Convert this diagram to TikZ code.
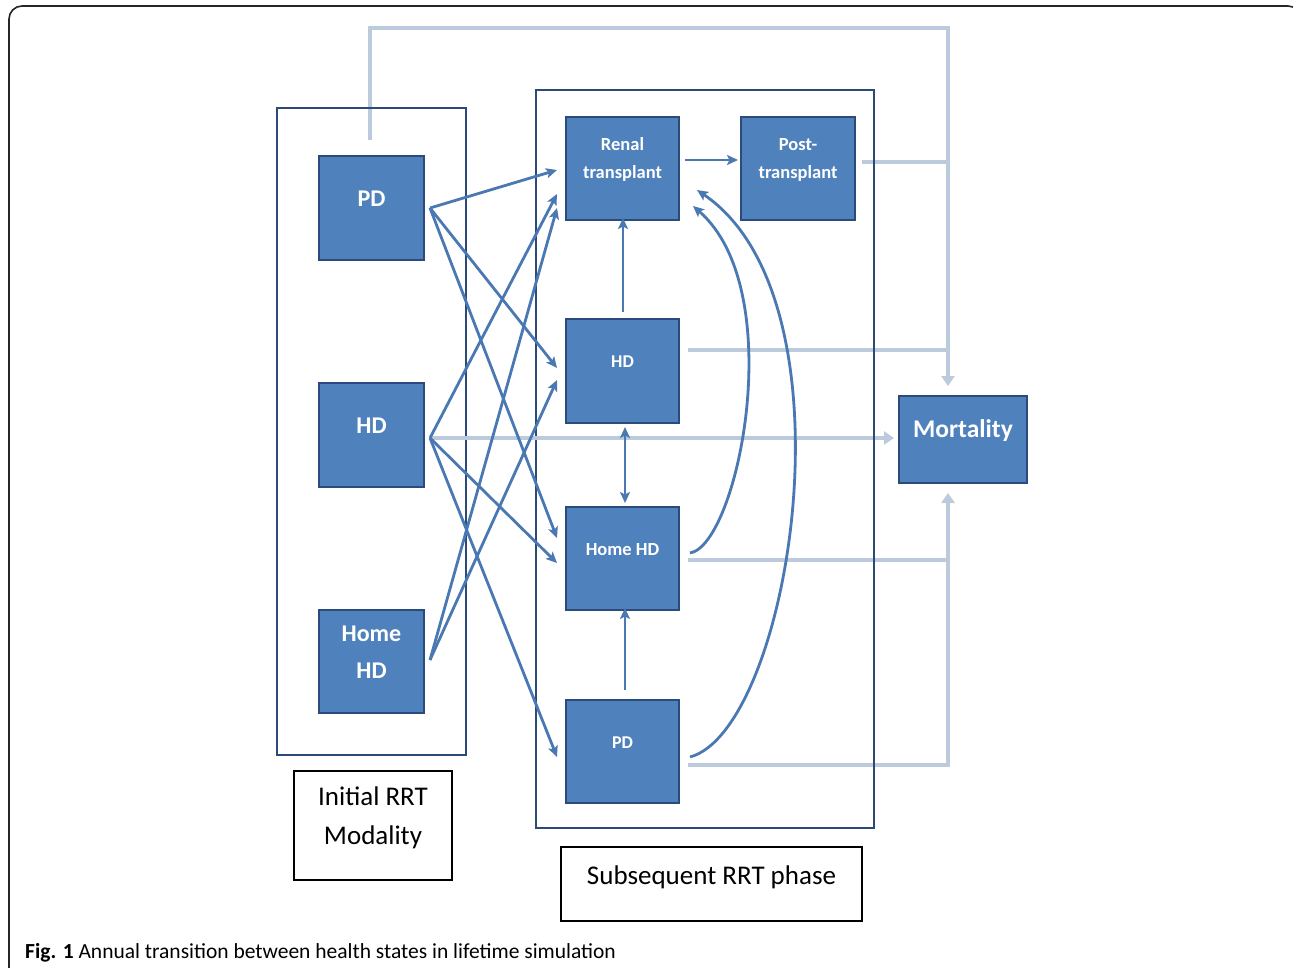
\documentclass[tikz,border=0pt]{standalone}
\usepackage{fontspec}
\setmainfont{Carlito}
\usetikzlibrary{arrows.meta,calc}
\definecolor{boxfill}{HTML}{4F81BD}
\definecolor{boxedge}{HTML}{2A4B7C}
\definecolor{contedge}{HTML}{2B4A78}
\definecolor{conn}{HTML}{4A78B2}
\definecolor{grayconn}{HTML}{BBCADC}
\tikzset{
  sbox/.style={draw=boxedge, fill=boxfill, line width=2.6pt, inner sep=0pt, outer sep=0pt},
  btxt/.style 2 args={text=white, font=\bfseries\fontsize{#1}{#2}\selectfont, align=center, yshift=9pt},
  cont/.style={draw=contedge, line width=2.6pt, inner sep=0pt, outer sep=0pt},
  lblbox/.style={draw=black, line width=2.6pt, inner sep=0pt, outer sep=0pt},
  ltxt/.style={text=black, font=\fontsize{27}{39}\selectfont, align=center},
  barr/.style={draw=conn, line width=2.8pt, -{Stealth[length=11pt,width=10pt,inset=2.5pt]}},
  dbarr/.style={draw=conn, line width=2.8pt, {Stealth[length=11pt,width=10pt,inset=2.5pt]}-{Stealth[length=11pt,width=10pt,inset=2.5pt]}},
  gline/.style={draw=grayconn, line width=4pt},
  garr/.style={draw=grayconn, line width=4pt, -{Triangle[length=10pt,width=13pt]}},
}
\begin{document}
\begin{tikzpicture}[x=1pt,y=-1pt]
\useasboundingbox (0,0) rectangle (1293,967);
\clip (0,0) rectangle (1293,967);
\fill[white] (0,0) rectangle (1293,967);
% outer frame
\draw[line width=1.6pt, draw=black!85, rounded corners=13pt] (9,975) -- (9,6) -- (1301,6) -- (1301,60);

% containers
\node[cont, minimum width=189pt, minimum height=647pt] (lcont) at (371.5,431.5) {};
\node[cont, minimum width=338pt, minimum height=738pt] (rcont) at (705,459) {};

% boxes
\node[sbox, minimum width=105pt, minimum height=104pt, label={[btxt={24}{37}]center:PD}] (lPD) at (371.5,208) {};
\node[sbox, minimum width=105pt, minimum height=104pt, label={[btxt={24}{37}]center:HD}] (lHD) at (371.5,435) {};
\node[sbox, minimum width=105pt, minimum height=103pt, label={[btxt={24}{37}]center:{Home\\HD}}] (lHH) at (371.5,661.5) {};
\node[sbox, minimum width=113pt, minimum height=103pt, label={[btxt={18.5}{28}]center:{Renal\\transplant}}] (rRT) at (622.5,168.5) {};
\node[sbox, minimum width=114pt, minimum height=103pt, label={[btxt={18.5}{28}]center:{Post-\\transplant}}] (rPT) at (798,168.5) {};
\node[sbox, minimum width=113pt, minimum height=104pt, label={[btxt={18}{28}]center:HD}] (rHD) at (622.5,371) {};
\node[sbox, minimum width=113pt, minimum height=103pt, label={[btxt={18.5}{28}]center:Home HD}] (rHH) at (622.5,558.5) {};
\node[sbox, minimum width=113pt, minimum height=103pt, label={[btxt={18}{28}]center:PD}] (rPD) at (622.5,751.5) {};
\node[sbox, minimum width=128pt, minimum height=87pt, label={[btxt={25.5}{30}]center:Mortality}] (mort) at (963,439.5) {};

% gray mortality connectors
\draw[garr] ($(lPD.north)+(-1.5,-16)$) -- ++(0,-112) -| ($(mort.north)+(-15,-10)$);
\draw[gline] ($(rPT.east)+(7,-6.5)$) -- ++(86,0);
\draw[gline] ($(rHD.east)+(9,-21)$) -- ++(260,0);
\draw[garr] ($(lHD.east)+(6,3)$) -- ($(mort.west)+(-5,-1.5)$);
\draw[gline] ($(rHH.east)+(9,1.5)$) -- ++(260,0);
\draw[garr] ($(rPD.east)+(9,13.5)$) -| ($(mort.south)+(-15,10)$);

% redraw container borders over the gray lines
\draw[draw=contedge, line width=2.6pt] (rcont.north east) -- (rcont.south east);
\draw[draw=contedge, line width=2.6pt] (lcont.north west) -- (lcont.north east);

% blue transitions from initial modality
\draw[barr] ($(lPD.east)+(6,0)$) -- ($(rRT.west)+(-9,1.5)$);
\draw[barr] ($(lPD.east)+(6,0)$) -- ($(rHD.west)+(-9,-3)$);
\draw[barr] ($(lPD.east)+(6,0)$) -- ($(rHH.west)+(-9,-20.5)$);
\draw[barr] ($(lHD.east)+(6,3)$) -- ($(rRT.west)+(-9,25.5)$);
\draw[barr] ($(lHD.east)+(6,3)$) -- ($(rHH.west)+(-9,4.5)$);
\draw[barr] ($(lHD.east)+(6,3)$) -- ($(rPD.west)+(-9,5.5)$);
\draw[barr] ($(lHH.east)+(6,-1.5)$) -- ($(rRT.west)+(-9,39.5)$);
\draw[barr] ($(lHH.east)+(6,-1.5)$) -- ($(rHD.west)+(-9,9)$);

% transitions within subsequent phase
\draw[barr] ($(rRT.east)+(6,-8.5)$) -- ($(rPT.west)+(-3,-8.5)$);
\draw[barr] ($(rHD.north)+(0.5,-7)$) -- ($(rRT.south)+(0.5,-2)$);
\draw[dbarr] ($(rHD.south)+(2.5,4)$) -- ($(rHH.north)+(2.5,-4)$);
\draw[barr] ($(rPD.north)+(2.5,-10)$) -- ($(rHH.south)+(2.5,-2)$);
\draw[barr] ($(rHH.east)+(11,-5.5)$) .. controls (738,545) and (790,290) .. ($(rRT.east)+(14,37.5)$);
\draw[barr] ($(rPD.east)+(11,5.5)$) .. controls (790,730) and (860,300) .. ($(rRT.east)+(18,21.5)$);

% label boxes
\node[lblbox, minimum width=158pt, minimum height=109pt, label={[ltxt, yshift=8pt]center:{Initial RRT\\Modality}}] (lblInit) at (373,825.5) {};
\node[lblbox, minimum width=301pt, minimum height=74pt, label={[ltxt, yshift=7pt]center:Subsequent RRT phase}] (lblSub) at (711.5,884) {};

% caption
\node[anchor=base west, inner sep=0pt, font=\fontsize{21.5}{26}\selectfont] (cap) at (25,958) {\textbf{Fig. 1} Annual transition between health states in lifetime simulation};
\end{tikzpicture}
\end{document}
